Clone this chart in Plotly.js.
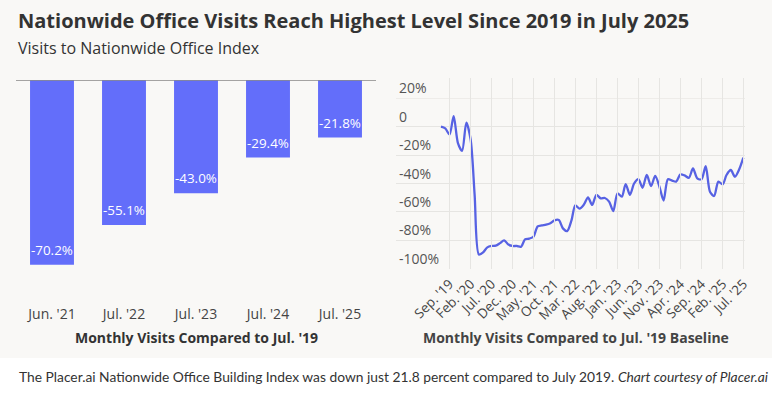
<!DOCTYPE html>
<html>
<head>
<meta charset="utf-8">
<script src="https://cdn.plot.ly/plotly-3.0.1.min.js"></script>
<style>
  html, body { margin: 0; padding: 0; background: #ffffff; }
  #chart { width: 772px; height: 396px; }
</style>
</head>
<body>
<div id="chart"></div>
<script>
// ---- Data ----
const barCategories = ["Jun. '21", "Jul. '22", "Jul. '23", "Jul. '24", "Jul. '25"];
const barValues = [-70.2, -55.1, -43.0, -29.4, -21.8];

const monthDates = [
  "2019-07-01","2019-08-01","2019-09-01","2019-10-01","2019-11-01","2019-12-01",
  "2020-01-01","2020-02-01","2020-03-01","2020-04-01","2020-05-01","2020-06-01",
  "2020-07-01","2020-08-01","2020-09-01","2020-10-01","2020-11-01","2020-12-01",
  "2021-01-01","2021-02-01","2021-03-01","2021-04-01","2021-05-01","2021-06-01",
  "2021-07-01","2021-08-01","2021-09-01","2021-10-01","2021-11-01","2021-12-01",
  "2022-01-01","2022-02-01","2022-03-01","2022-04-01","2022-05-01","2022-06-01",
  "2022-07-01","2022-08-01","2022-09-01","2022-10-01","2022-11-01","2022-12-01",
  "2023-01-01","2023-02-01","2023-03-01","2023-04-01","2023-05-01","2023-06-01",
  "2023-07-01","2023-08-01","2023-09-01","2023-10-01","2023-11-01","2023-12-01",
  "2024-01-01","2024-02-01","2024-03-01","2024-04-01","2024-05-01","2024-06-01",
  "2024-07-01","2024-08-01","2024-09-01","2024-10-01","2024-11-01","2024-12-01",
  "2025-01-01","2025-02-01","2025-03-01","2025-04-01","2025-05-01","2025-06-01",
  "2025-07-01"
];
const monthlyValues = [
  0, -1.2, -5.5, 7.5, -11.5, -17,
  2.8, -9, -48, -90, -88.5, -85,
  -84, -83.8, -82, -80, -83, -84,
  -84, -84.5, -79.3, -78.8, -77.5, -70.2,
  -69.5, -69, -68, -66, -65.7, -71.6,
  -73.5, -66, -55.4, -57.7, -55, -49.8,
  -55.1, -48, -50.5, -50.2, -52.8, -59.4,
  -47, -49.3, -40.4, -48, -40, -36.9,
  -43.0, -34, -41.8, -34.7, -42.3, -52,
  -37, -38, -38.7, -33.6, -34.3, -36,
  -29.4, -36.4, -37, -27.7, -45.8, -48.8,
  -38.7, -40.6, -34, -30.5, -35.2, -30,
  -21.8
];

const lineTickDates = ["2019-09-01","2020-02-01","2020-07-01","2020-12-01","2021-05-01",
  "2021-10-01","2022-03-01","2022-08-01","2023-01-01","2023-06-01","2023-11-01",
  "2024-04-01","2024-09-01","2025-02-01","2025-07-01"];
const lineTickLabels = ["Sep. '19","Feb. '20","Jul. '20","Dec. '20","May. '21",
  "Oct. '21","Mar. '22","Aug. '22","Jan. '23","Jun. '23","Nov. '23",
  "Apr. '24","Sep. '24","Feb. '25","Jul. '25"];

const yTickVals = [20, 0, -20, -40, -60, -80, -100];
const yTickText = ["20%", "0", "-20%", "-40%", "-60%", "-80%", "-100%"];

// ---- Layout helpers (pixel -> paper, margins are zero) ----
const W = 772, H = 396;
const px = v => v / W;
const py = v => 1 - v / H;

const FONT = "Open Sans, sans-serif";
const BG = "#f9f8f6";
const GRID = "#e6e5e2";

// right panel vertical geometry
const R_TOP = 98.3, R_BOT = 268.7, R_MIN = -100, R_MAX = 20;
const R_SCALE = (R_BOT - R_TOP) / (R_MAX - R_MIN);
const LABEL_TOP = 78; // label axis extends above so the top label is shown
const LABEL_MAX = R_MAX + (R_TOP - LABEL_TOP) / R_SCALE;

const traces = [
  {
    type: "bar",
    x: barCategories,
    y: barValues,
    xaxis: "x", yaxis: "y",
    marker: { color: "#636efa" },
    hoverinfo: "skip"
  },
  {
    type: "scatter",
    mode: "lines",
    x: monthDates,
    y: monthlyValues,
    xaxis: "x2", yaxis: "y2",
    line: { color: "#5762e3", width: 2.3, shape: "spline", smoothing: 0.8 },
    hoverinfo: "skip"
  },
  {
    type: "scatter", mode: "lines", x: [], y: [],
    xaxis: "x2", yaxis: "y3", hoverinfo: "skip"
  }
];

const barLabels = barCategories.map((c, i) => ({
  text: barValues[i].toFixed(1) + "%",
  xref: "x", yref: "y", x: c, y: barValues[i],
  xanchor: "center", yanchor: "bottom", yshift: 4,
  showarrow: false,
  font: { family: FONT, size: 13.4, color: "#ffffff" }
}));

const layout = {
  width: W, height: H,
  margin: { l: 0, r: 0, t: 0, b: 0 },
  paper_bgcolor: BG,
  plot_bgcolor: "rgba(0,0,0,0)",
  showlegend: false,
  bargap: 0.39,
  font: { family: FONT, color: "#333333" },
  xaxis: {
    domain: [px(16), px(376)],
    anchor: "y",
    type: "category",
    showgrid: false, zeroline: false, showline: false,
    ticks: "", ticklabelstandoff: 4,
    tickfont: { family: FONT, size: 14, color: "#444444" },
    automargin: false, fixedrange: true
  },
  yaxis: {
    domain: [py(300), py(80.3)],
    anchor: "x",
    range: [-83.6, 0],
    showgrid: false, zeroline: false, showline: false,
    showticklabels: false, ticks: "",
    automargin: false, fixedrange: true
  },
  xaxis2: {
    domain: [px(396), px(745)],
    anchor: "y2",
    type: "date",
    range: ["2018-08-09", "2025-07-13"],
    tickmode: "array",
    tickvals: lineTickDates,
    ticktext: lineTickLabels,
    tickangle: -45,
    showgrid: true, gridcolor: GRID, gridwidth: 1,
    zeroline: false, showline: false, ticks: "",
    ticklabelstandoff: 4,
    tickfont: { family: FONT, size: 13.4, color: "#444444" },
    automargin: false, fixedrange: true
  },
  yaxis2: {
    domain: [py(R_BOT), py(R_TOP)],
    anchor: "x2",
    range: [R_MIN, R_MAX],
    tickmode: "array",
    tickvals: yTickVals,
    showticklabels: false,
    showgrid: true, gridcolor: GRID, gridwidth: 1,
    zeroline: false, showline: false, ticks: "",
    automargin: false, fixedrange: true
  },
  yaxis3: {
    domain: [py(R_BOT), py(LABEL_TOP)],
    anchor: "x2",
    range: [R_MIN, LABEL_MAX],
    tickmode: "array",
    tickvals: yTickVals,
    ticktext: yTickText,
    ticklabelposition: "inside top",
    showgrid: false, zeroline: false, showline: false, ticks: "",
    tickfont: { family: FONT, size: 14, color: "#555555" },
    automargin: false, fixedrange: true
  },
  shapes: [
    { type: "rect", xref: "paper", yref: "paper", x0: 0, x1: 1, y0: 0, y1: py(358),
      fillcolor: "#ffffff", line: { width: 0 }, layer: "below" },
    { type: "line", xref: "paper", yref: "y", x0: px(16), x1: px(376), y0: 0, y1: 0,
      line: { color: "#6b6b6b", width: 1 }, layer: "above" },
    { type: "line", xref: "x2 domain", yref: "y2", x0: 0, x1: 1, y0: R_MAX, y1: R_MAX,
      line: { color: GRID, width: 1 }, layer: "below" }
  ],
  annotations: [
    { text: "<b>Nationwide Office Visits Reach Highest Level Since 2019 in July 2025</b>",
      xref: "paper", yref: "paper", x: px(16), y: py(21), xanchor: "left", yanchor: "middle",
      showarrow: false, font: { family: FONT, size: 20, color: "#333333" } },
    { text: "Visits to Nationwide Office Index",
      xref: "paper", yref: "paper", x: px(16), y: py(48), xanchor: "left", yanchor: "middle",
      showarrow: false, font: { family: FONT, size: 16, color: "#333333" } },
    { text: "<b>Monthly Visits Compared to Jul. '19</b>",
      xref: "paper", yref: "paper", x: px(196), y: py(337), xanchor: "center", yanchor: "middle",
      showarrow: false, font: { family: FONT, size: 14, color: "#333333" } },
    { text: "<b>Monthly Visits Compared to Jul. '19 Baseline</b>",
      xref: "paper", yref: "paper", x: px(576), y: py(337), xanchor: "center", yanchor: "middle",
      showarrow: false, font: { family: FONT, size: 14, color: "#444444" } },
    { text: "The Placer.ai Nationwide Office Building Index was down just 21.8 percent compared to July 2019. <i>Chart courtesy of Placer.ai</i>",
      xref: "paper", yref: "paper", x: px(393), y: py(376), xanchor: "center", yanchor: "middle",
      showarrow: false, font: { family: "Lato, sans-serif", size: 13.8, color: "#333333" } }
  ].concat(barLabels)
};

Plotly.newPlot("chart", traces, layout, { staticPlot: true, displayModeBar: false });
</script>
</body>
</html>
